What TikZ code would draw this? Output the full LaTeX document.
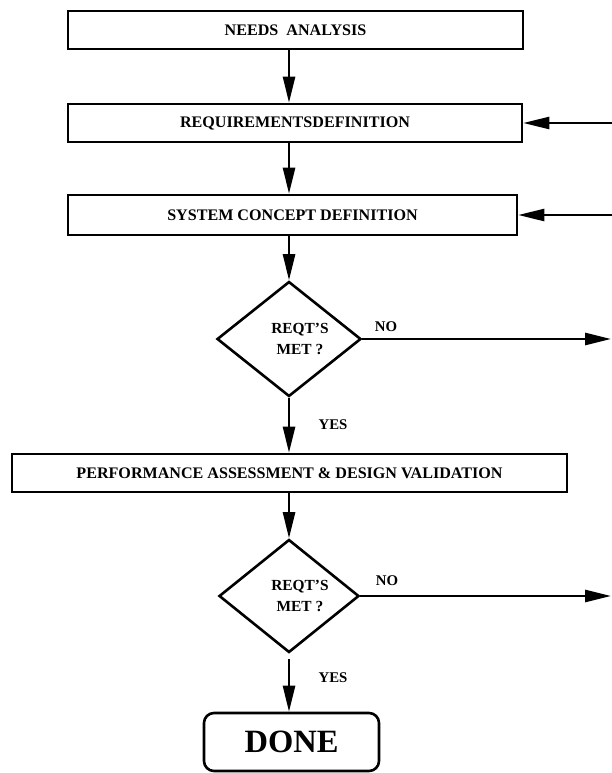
\documentclass[tikz,border=0pt]{standalone}
\usepackage{fontspec}
\setmainfont{Liberation Serif}
\usetikzlibrary{arrows.meta,shapes.geometric}
\begin{document}
\begin{tikzpicture}[x=1pt,y=-1pt,
  stepbox/.style={draw, line width=2.6pt, inner sep=0pt, font=\fontsize{16.1}{19}\selectfont\bfseries},
  decision/.style={draw, diamond, line width=2.6pt, inner sep=0pt, align=center, font=\fontsize{15.4}{21}\selectfont\bfseries},
  donebox/.style={draw, rounded corners=10pt, line width=2.6pt, inner sep=0pt, minimum width=175pt, minimum height=58pt, font=\fontsize{32.5}{36}\selectfont\bfseries},
  flow/.style={line width=2.6pt, -{Triangle[length=26pt,width=12pt]}},
  lbl/.style={font=\fontsize{14.8}{18}\selectfont\bfseries, inner sep=0pt}]
\useasboundingbox (0,0) rectangle (612,773);
% boxes
\node[stepbox, minimum width=455pt, minimum height=38pt] (b1) at (295.5,30) {NEEDS\ \ ANALYSIS};
\node[stepbox, minimum width=454pt, minimum height=38pt] (b2) at (295,123) {REQUIREMENTSDEFINITION};
\node[stepbox, minimum width=449pt, minimum height=40pt] (b3) at (292.5,215) {SYSTEM CONCEPT DEFINITION};
\node[decision, minimum width=144pt, minimum height=115pt] (d1) at (289,339) {\hspace*{22pt}REQT'S\\\hspace*{22pt}MET ?};
\node[stepbox, minimum width=555pt, minimum height=38pt] (pa) at (289.5,473) {PERFORMANCE ASSESSMENT \& DESIGN VALIDATION};
\node[decision, minimum width=140pt, minimum height=113pt] (d2) at (289,596) {\hspace*{22pt}REQT'S\\\hspace*{22pt}MET ?};
\node[donebox] (done) at (291.5,742) {DONE};
% labels
\node[lbl] (no1) at (386,327) {NO};
\node[lbl] (no2) at (387,581) {NO};
\node[lbl] (yes1) at (333,425) {YES};
\node[lbl] (yes2) at (333,678) {YES};
% free ends
\coordinate (in2) at (612,123);
\coordinate (in3) at (612,215);
\coordinate (out1) at (611,339);
\coordinate (out2) at (611,596);
% connectors
\draw[flow] (b1.south -| d1.north) -- (b2.north -| d1.north);
\draw[flow] (b2.south -| d1.north) -- (b3.north -| d1.north);
\draw[flow] (b3.south -| d1.north) -- (d1.north);
\draw[flow] (d1.south) -- (pa.north -| d1.south);
\draw[flow] (pa.south -| d2.north) -- (d2.north);
\draw[flow, shorten <=5pt] (d2.south) -- (done.north -| d2.south);
\draw[flow] (d1.east) -- (out1);
\draw[flow] (d2.east) -- (out2);
\draw[flow] (in2) -- (b2.east);
\draw[flow] (in3) -- (b3.east);
\end{tikzpicture}
\end{document}
